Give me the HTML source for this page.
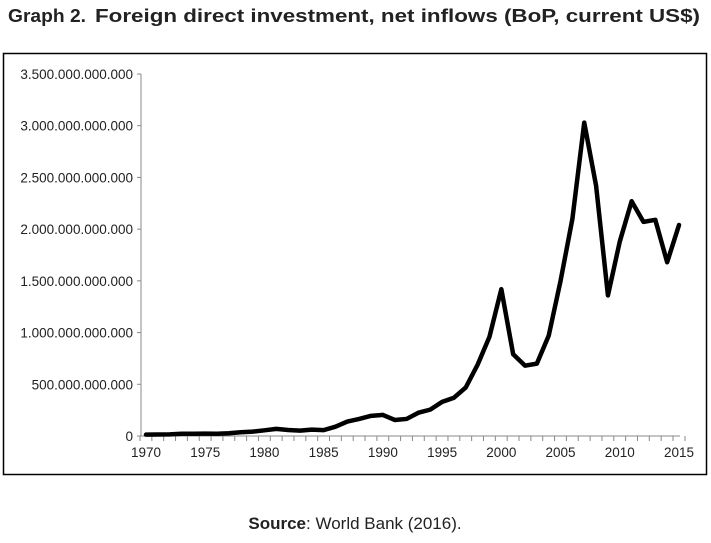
<!DOCTYPE html>
<html><head><meta charset="utf-8"><style>
body{margin:0;width:711px;height:538px;background:#fff;font-family:"Liberation Sans",sans-serif;overflow:hidden}
svg text{font-family:"Liberation Sans",sans-serif}
</style></head><body>
<svg width="711" height="538">
<text x="8" y="22" font-size="18" font-weight="bold" fill="#222"><tspan textLength="78" lengthAdjust="spacingAndGlyphs">Graph 2.</tspan><tspan x="95" textLength="605" lengthAdjust="spacingAndGlyphs">Foreign direct investment, net inflows (BoP, current US$)</tspan></text>
<rect x="3.5" y="53.5" width="703" height="421" fill="none" stroke="#000" stroke-width="1.5"/>
<g id="axes"></g>
<text x="355" y="529" font-size="17" text-anchor="middle" fill="#222"><tspan font-weight="bold">Source</tspan>: World Bank (2016).</text>
</svg>
<script>
const years=[];for(let y=1970;y<=2015;y++)years.push(y);
const fdiTrillions=[0.013,0.015,0.016,0.022,0.022,0.023,0.022,0.027,0.036,0.042,0.055,0.069,0.058,0.052,0.062,0.057,0.09,0.14,0.165,0.195,0.204,0.155,0.165,0.225,0.255,0.33,0.37,0.47,0.69,0.96,1.42,0.79,0.68,0.70,0.97,1.50,2.10,3.03,2.42,1.36,1.88,2.27,2.07,2.09,1.68,2.04];
const yTickLabels=["0","500.000.000.000","1.000.000.000.000","1.500.000.000.000","2.000.000.000.000","2.500.000.000.000","3.000.000.000.000","3.500.000.000.000"];
const yTickValues=[0,0.5,1,1.5,2,2.5,3,3.5];
const xTickLabels=[1970,1975,1980,1985,1990,1995,2000,2005,2010,2015];
const ns="http://www.w3.org/2000/svg";
const g=document.getElementById('axes');
const X0=146,X1=679,Y0=436,Y1=74;
const xs=y=>X0+(y-1970)*(X1-X0)/45;
const ys=v=>Y0-v*(Y0-Y1)/3.5;
function mk(t,a){const e=document.createElementNS(ns,t);for(const k in a)e.setAttribute(k,a[k]);g.appendChild(e);return e;}
let e=mk('line',{x1:141,x2:141,y1:Y1,y2:Y0,stroke:'#888','stroke-width':1});


e=mk('line',{x1:141,x2:X1+1,y1:Y0,y2:Y0,stroke:'#888','stroke-width':1});


yTickValues.forEach((v,i)=>{
 mk('line',{x1:137,x2:141,y1:ys(v),y2:ys(v),stroke:'#888'});
 const t=mk('text',{x:133,y:ys(v)+5,'font-size':13.5,'text-anchor':'end',fill:'#222'});
 t.textContent=yTickLabels[i];
 
 
});
for(let y=1970;y<=2015;y++){mk('line',{x1:xs(y)-6,x2:xs(y)-6,y1:Y0,y2:Y0+5,stroke:'#888'});}
mk('line',{x1:X1+6,x2:X1+6,y1:Y0,y2:Y0+5,stroke:'#888'});
xTickLabels.forEach(y=>{
 const t=mk('text',{x:xs(y),y:Y0+21,'font-size':13.5,'text-anchor':'middle',fill:'#222'});
 t.textContent=y;
 
 
});
const p=mk('polyline',{points:years.map((y,i)=>xs(y)+','+ys(fdiTrillions[i])).join(' '),fill:'none',stroke:'#000','stroke-width':4.5,'stroke-linejoin':'round','stroke-linecap':'round'});


</script>
</body></html>
